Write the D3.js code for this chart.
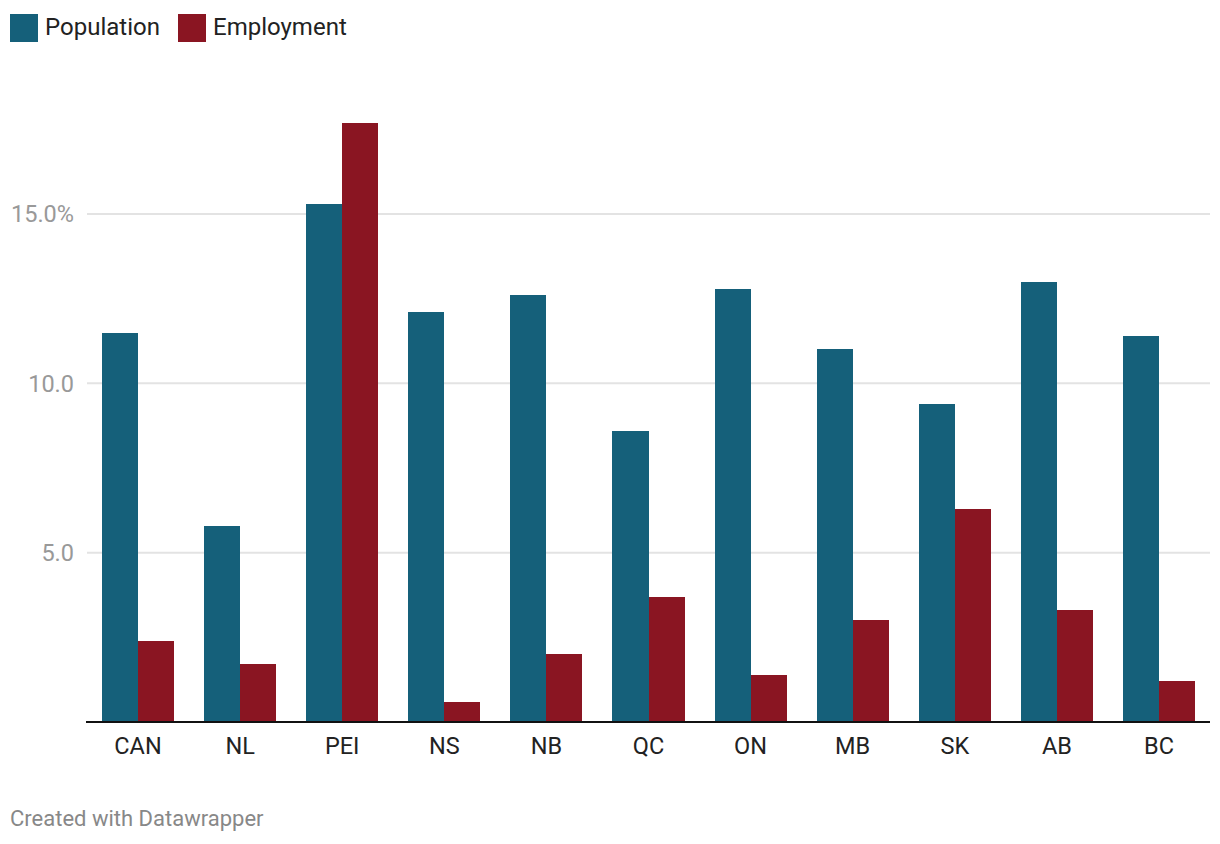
<!DOCTYPE html>
<html><head><meta charset="utf-8">
<script src="https://cdn.jsdelivr.net/npm/d3@7"></script>
<style>body{margin:0;background:#fff;} text{font-family:Roboto,"Noto Sans",sans-serif;}</style>
</head><body>
<svg id="c" width="1220" height="844"></svg>
<script>
const categories = ["CAN","NL","PEI","NS","NB","QC","ON","MB","SK","AB","BC"];
const population = [11.5,5.8,15.3,12.1,12.6,8.6,12.8,11.0,9.4,13.0,11.4];
const employment = [2.4,1.7,17.7,0.6,2.0,3.7,1.4,3.0,6.3,3.3,1.2];
const seriesNames = ["Population","Employment"];
const colors = ["#15607a","#8a1522"];
const yTicks = [5,10,15];

const svg = d3.select("#c");
const x = d3.scaleBand().domain(categories).range([102,1195]).paddingInner(30/102).paddingOuter(0);
const xs = d3.scaleBand().domain(seriesNames).range([0,x.bandwidth()]);
const y = d3.scaleLinear().domain([0,15]).range([722,214]);

svg.append("g").selectAll("line").data(yTicks).join("line")
  .attr("x1",87).attr("x2",1210).attr("y1",d=>y(d)).attr("y2",d=>y(d))
  .attr("stroke","#e3e3e3").attr("stroke-width",2);
svg.append("g").selectAll("text").data(yTicks).join("text")
  .attr("x",74).attr("y",d=>y(d)).attr("dy","0.35em").attr("text-anchor","end")
  .attr("font-size","23.5px").attr("fill","#999")
  .text(d=>d3.format(".1f")(d)+(d===15?"%":""));

const data = [population, employment];
const g = svg.append("g").attr("shape-rendering","crispEdges");
seriesNames.forEach((s,si)=>{
  g.append("g").selectAll("rect").data(categories).join("rect")
    .attr("x",(c)=>x(c)+xs(s)).attr("width",xs.bandwidth())
    .attr("y",(c,i)=>y(data[si][i])).attr("height",(c,i)=>y(0)-y(data[si][i]))
    .attr("fill",colors[si]);
});

svg.append("line").attr("x1",86).attr("x2",1210).attr("y1",y(0)).attr("y2",y(0))
  .attr("stroke","#111").attr("stroke-width",2);

svg.append("g").selectAll("text").data(categories).join("text")
  .attr("x",c=>x(c)+x.bandwidth()/2).attr("y",754).attr("text-anchor","middle")
  .attr("font-size","23.5px").attr("fill","#222").text(c=>c);

const leg = svg.append("g");
const legX = [10,178];
seriesNames.forEach((s,i)=>{
  leg.append("rect").attr("x",legX[i]).attr("y",14).attr("width",28).attr("height",28).attr("fill",colors[i]);
  leg.append("text").attr("x",legX[i]+35).attr("y",35).attr("font-size","24px").attr("fill","#222").text(s);
});

svg.append("text").attr("x",10).attr("y",826).attr("font-size","22px").attr("fill","#888").text("Created with Datawrapper");
</script>
</body></html>
